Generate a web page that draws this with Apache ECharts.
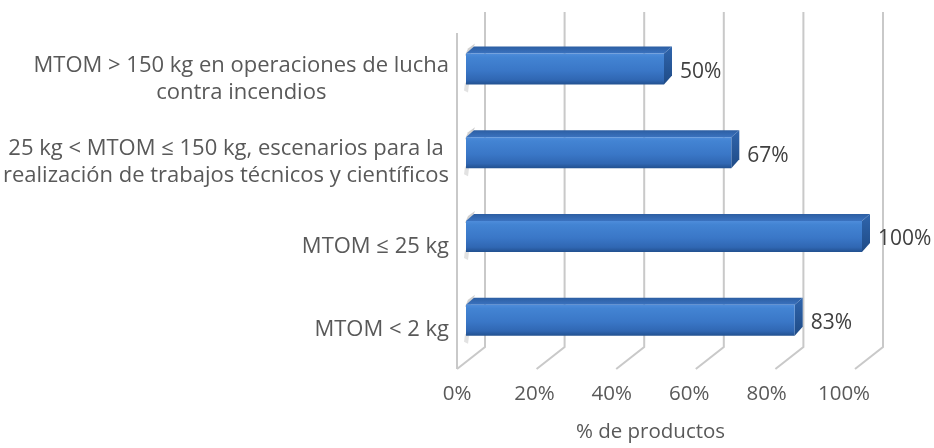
<!DOCTYPE html>
<html><head><meta charset="utf-8">
<script src="https://cdn.jsdelivr.net/npm/echarts@6/dist/echarts.min.js"></script>
<style>html,body{margin:0;padding:0;background:#fff}#c{width:934px;height:448px}</style>
</head><body><div id="c"></div>
<script>
var categories = [
  'MTOM > 150 kg en operaciones de lucha\ncontra incendios',
  '25 kg < MTOM ≤ 150 kg, escenarios para la\nrealización de trabajos técnicos y científicos',
  'MTOM ≤ 25 kg',
  'MTOM < 2 kg'
];
var values = [50, 67, 100, 83];
var tickValues = [0, 20, 40, 60, 80, 100];
var axisTitle = '% de productos';

var FONT = '"Open Sans"';
var FS_CAT = 22;
var FS_NUM = 20.5;
var chart = echarts.init(document.getElementById('c'), null, {renderer: 'canvas'});

function renderWall(params, api) {
  var t = api.value(0);
  var top = api.coord([t, 1]);
  var bot = api.coord([t, 0]);
  var front = [bot[0] - 28, bot[1] + 22];
  var children = [{
    type: 'polyline',
    shape: {points: [top, bot, front]},
    style: {stroke: '#c9c9c9', lineWidth: 2, fill: null}
  }];
  if (t === 0) {
    children.push({
      type: 'line',
      shape: {x1: front[0], y1: top[1] + 21, x2: front[0], y2: front[1]},
      style: {stroke: '#c9c9c9', lineWidth: 2}
    });
  }
  return {type: 'group', children: children};
}

function renderBar(params, api) {
  var v = api.value(0), c = api.value(1);
  var s = api.coord([0, c]);
  var e = api.coord([v, c]);
  var band = api.size([0, 1])[1];
  var h = Math.round(band * 0.37);
  var x0 = s[0], x1 = e[0];
  var yT = s[1] - h / 2, yB = s[1] + h / 2;
  var dx = 8, dy = 7;
  return {
    type: 'group',
    children: [
      {
        type: 'polygon',
        shape: {points: [[x0 - 1, yT + 2], [x0 + 2, yT - 5], [x0 + 9, yT - 10], [x0 + 4, yT + 2]]},
        style: {fill: 'rgba(120,120,120,0.35)'}
      },
      {
        type: 'polygon',
        shape: {points: [[x0 - 1, yB - 2], [x0 + 3, yB], [x0 + 2, yB + 8], [x0 - 2, yB + 6]]},
        style: {fill: 'rgba(140,140,140,0.25)'}
      },
      {
        type: 'polygon',
        shape: {points: [[x0, yT], [x0 + dx, yT - dy], [x1 + dx, yT - dy], [x1, yT]]},
        style: {fill: {type: 'linear', x: 0, y: 0, x2: 0, y2: 1, colorStops: [
          {offset: 0, color: '#2c5ea2'}, {offset: 1, color: '#3a72bf'}]}}
      },
      {
        type: 'polygon',
        shape: {points: [[x1, yT], [x1 + dx, yT - dy], [x1 + dx, yB - dy - 2], [x1, yB]]},
        style: {fill: {type: 'linear', x: 0, y: 0, x2: 0, y2: 1, colorStops: [
          {offset: 0, color: '#2f65ad'}, {offset: 1, color: '#1f4b86'}]}}
      },
      {
        type: 'rect',
        shape: {x: x0, y: yT, width: x1 - x0, height: h},
        style: {fill: {type: 'linear', x: 0, y: 0, x2: 0, y2: 1, colorStops: [
          {offset: 0, color: '#4f8ddb'},
          {offset: 0.12, color: '#4384d3'},
          {offset: 0.55, color: '#3a77c7'},
          {offset: 0.85, color: '#3067b3'},
          {offset: 1, color: '#225190'}]}}
      },
      {
        type: 'text',
        style: {
          text: v + '%', x: x1 + dx + 8, y: s[1] + 3,
          align: 'left', verticalAlign: 'middle',
          fill: '#404040', fontSize: 21, fontFamily: FONT
        }
      }
    ]
  };
}

var option = {
  backgroundColor: '#ffffff',
  animation: false,
  grid: [
    {left: 466, top: 27, width: 396, height: 335},
    {left: 485, top: 12, width: 398, height: 335},
    {left: 466, top: 37, width: 396, height: 335},
    {left: 457, top: 12, width: 387, height: 368}
  ],
  xAxis: [
    {gridIndex: 0, type: 'value', min: 0, max: 100, show: false},
    {gridIndex: 1, type: 'value', min: 0, max: 100, show: false},
    {gridIndex: 2, type: 'value', min: 0, max: 100, show: false},
    {
      gridIndex: 3, type: 'value', min: 0, max: 100, interval: 20,
      axisLine: {show: false}, axisTick: {show: false}, splitLine: {show: false},
      axisLabel: {formatter: '{value}%', color: '#595959', fontSize: FS_NUM, fontFamily: FONT, margin: 12},
      name: axisTitle, nameLocation: 'middle', nameGap: 50,
      nameTextStyle: {color: '#595959', fontSize: FS_NUM, fontFamily: FONT}
    }
  ],
  yAxis: [
    {gridIndex: 0, type: 'category', data: categories, inverse: true, show: false},
    {gridIndex: 1, type: 'value', min: 0, max: 1, show: false},
    {
      gridIndex: 2, type: 'category', data: categories, inverse: true,
      axisLine: {show: false}, axisTick: {show: false}, splitLine: {show: false},
      axisLabel: {
        margin: 19, align: 'right',
        formatter: function (v) {
          return v.split('\n').map(function (l) { return '{c|' + l + '}'; }).join('\n');
        },
        rich: {c: {align: 'center', color: '#595959', fontSize: FS_CAT, fontFamily: FONT, lineHeight: 27}}
      }
    },
    {gridIndex: 3, type: 'value', show: false}
  ],
  series: [
    {
      type: 'custom', xAxisIndex: 1, yAxisIndex: 1, z: 1,
      data: tickValues.map(function (t) { return [t, 0]; }),
      renderItem: renderWall, silent: true
    },
    {
      type: 'custom', xAxisIndex: 0, yAxisIndex: 0, z: 2,
      data: values.map(function (v, i) { return [v, i]; }),
      renderItem: renderBar, silent: true
    }
  ]
};
chart.setOption(option);
</script>
</body></html>
